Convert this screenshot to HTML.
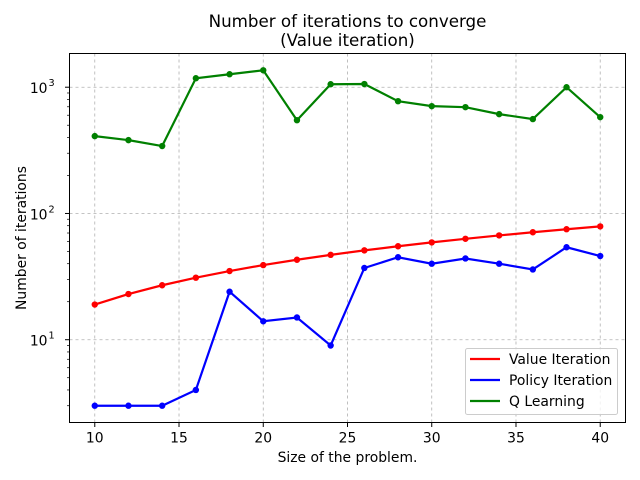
<!DOCTYPE html>
<html><head><meta charset="utf-8"><style>body{margin:0;background:#fff}svg{display:block;font-family:"DejaVu Sans","Liberation Sans",sans-serif}</style></head>
<body>
<svg id="chart" width="640" height="480"></svg>
<script>
const sizes=[10,12,14,16,18,20,22,24,26,28,30,32,34,36,38,40];
const valueIter=[19,23,27,31,35,39,43,47,51,55,59,63,67,71,75,79];
const policyIter=[3,3,3,4,24,14,15,9,37,45,40,44,40,36,54,46];
const qLearning=[410,381,342,1178,1267,1362,548,1056,1060,775,708,695,612,559,1000,579];
const xTicks=[10,15,20,25,30,35,40];
const yTicks=[1,2,3];
const seriesNames=["Value Iteration","Policy Iteration","Q Learning"];
const colors=["#ff0000","#0000ff","#008000"];
const NS="http://www.w3.org/2000/svg";
const svg=document.getElementById('chart');
const L=69.5,R=625.5,T=53.5,B=422.5;
const all=[...valueIter,...policyIter,...qLearning].map(Math.log10);
let lmin=Math.min(...all),lmax=Math.max(...all),m=(lmax-lmin)*0.05;lmin-=m;lmax+=m;
const xmin=Math.min(...sizes),xmax=Math.max(...sizes),xm=(xmax-xmin)*0.05;
const X=v=>L+(v-(xmin-xm))/((xmax+xm)-(xmin-xm))*(R-L);
const Y=v=>B-(Math.log10(v)-lmin)/(lmax-lmin)*(B-T);
function mk(t,a,p){const e=document.createElementNS(NS,t);for(const k in a)e.setAttribute(k,a[k]);(p||svg).appendChild(e);return e;}
xTicks.forEach(t=>{const x=X(t);
 const g=mk('line',{x1:x,x2:x,y1:T,y2:B,stroke:'#b0b0b0','stroke-width':0.8,'stroke-dasharray':'3,3'});
 
 mk('line',{x1:x,x2:x,y1:B,y2:B+4.5,stroke:'#000','stroke-width':1});
 const tx=mk('text',{x:x,y:B+20,'text-anchor':'middle','font-size':13.9});tx.textContent=t;
 });
yTicks.forEach(p=>{const y=Y(Math.pow(10,p));
 const g=mk('line',{x1:L,x2:R,y1:y,y2:y,stroke:'#b0b0b0','stroke-width':0.8,'stroke-dasharray':'3,3'});
 
 mk('line',{x1:L-4.5,x2:L,y1:y,y2:y,stroke:'#000','stroke-width':1});
 const tx=mk('text',{x:L-22,y:y+6,'text-anchor':'end','font-size':13.9});
 
 tx.textContent='10';
 const sp=mk('text',{x:L-21,y:y-1,'text-anchor':'start','font-size':9.7});sp.textContent=p;
 });
for(let d=0;d<4;d++)for(let k=2;k<10;k++){const v=k*Math.pow(10,d);const lv=Math.log10(v);if(lv<lmin||lv>lmax)continue;const y=Y(v);
 mk('line',{x1:L-2.5,x2:L,y1:y,y2:y,stroke:'#000','stroke-width':0.7});}
[valueIter,policyIter,qLearning].forEach((s,i)=>{
 const pl=mk('polyline',{points:s.map((v,j)=>X(sizes[j])+','+Y(v)).join(' '),fill:'none',stroke:colors[i],'stroke-width':2.2});
 
 s.forEach((v,j)=>{const c=mk('circle',{cx:X(sizes[j]),cy:Y(v),r:3.2,fill:colors[i]});
  });});
const fr=mk('rect',{x:L,y:T,width:R-L,height:B-T,fill:'none',stroke:'#000','stroke-width':1});

const t1=mk('text',{x:(L+R)/2,y:27,'text-anchor':'middle','font-size':16.7});t1.textContent='Number of iterations to converge';

const t2=mk('text',{x:(L+R)/2,y:46,'text-anchor':'middle','font-size':16.7});t2.textContent='(Value iteration)';

const xl=mk('text',{x:(L+R)/2,y:462,'text-anchor':'middle','font-size':13.9});xl.textContent='Size of the problem.';

const yl=mk('text',{x:0,y:0,'text-anchor':'middle','font-size':13.9,transform:'translate(26,'+((T+B)/2)+') rotate(-90)'});yl.textContent='Number of iterations';

const lg=mk('g',{});
mk('rect',{x:465.5,y:348.5,width:152,height:66,rx:2,fill:'#fff','fill-opacity':0.8,stroke:'#cccccc','stroke-width':1},lg);
seriesNames.forEach((n,i)=>{const y=359+i*21;
 mk('line',{x1:470,x2:500,y1:y,y2:y,stroke:colors[i],'stroke-width':2.2},lg);
 const t=mk('text',{x:509,y:y+5,'font-size':13.9},lg);t.textContent=n;
 });
</script>
</body></html>
